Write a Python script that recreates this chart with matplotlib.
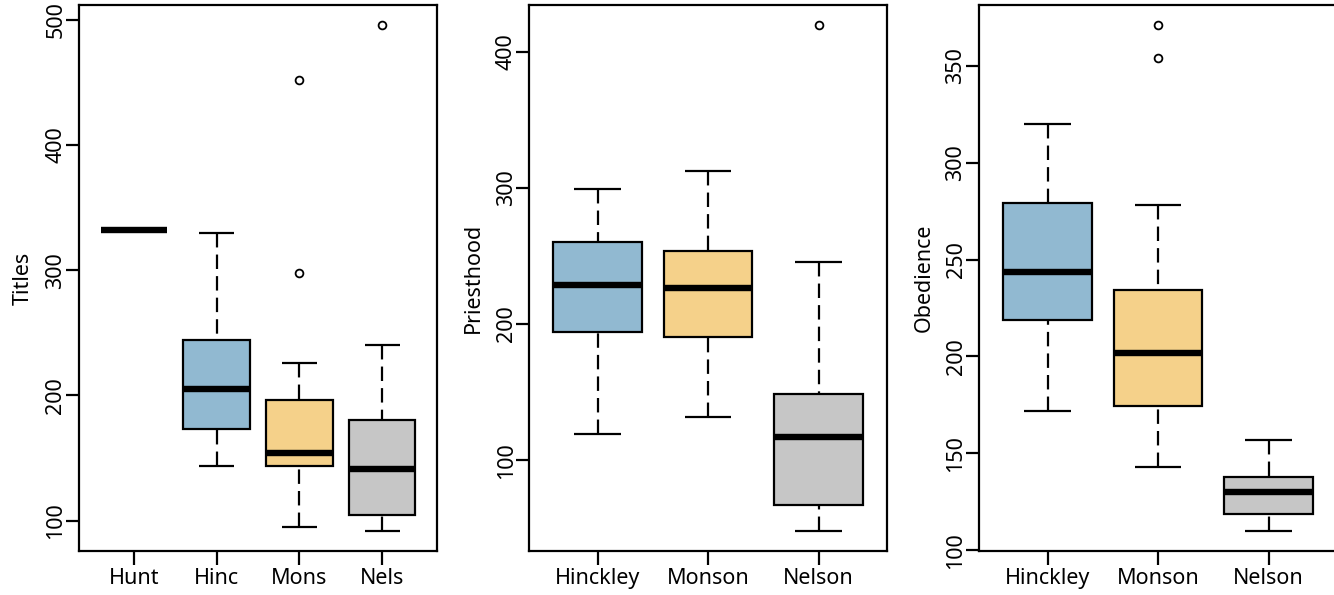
import matplotlib
matplotlib.use("Agg")
import matplotlib.pyplot as plt

# =========================
# DATA
# =========================
# Titles panel
TITLES_NAMES = ["Hunt", "Hinc", "Mons", "Nels"]
TITLES_WHISLO = [332, 144, 95, 92]
TITLES_Q1 = [332, 173, 143.5, 104.5]
TITLES_MED = [332, 205, 154, 141]
TITLES_Q3 = [332, 244, 196.5, 180.7]
TITLES_WHISHI = [332, 330, 225.7, 240]
TITLES_FLIERS = [[], [], [298, 451.6], [495.5]]
TITLES_TICKS = [100, 200, 300, 400, 500]

# Priesthood panel
PRIEST_NAMES = ["Hinckley", "Monson", "Nelson"]
PRIEST_WHISLO = [119, 132, 48.2]
PRIEST_Q1 = [194, 190.7, 67.2]
PRIEST_MED = [229, 226.6, 117.3]
PRIEST_Q3 = [260, 253.6, 148.7]
PRIEST_WHISHI = [299, 312.6, 245.3]
PRIEST_FLIERS = [[], [], [419.5]]
PRIEST_TICKS = [100, 200, 300, 400]

# Obedience panel
OBED_NAMES = ["Hinckley", "Monson", "Nelson"]
OBED_WHISLO = [172, 143, 110]
OBED_Q1 = [218.8, 174.6, 118.8]
OBED_MED = [243.4, 202, 130]
OBED_Q3 = [279, 234.3, 138]
OBED_WHISHI = [320, 278, 157]
OBED_FLIERS = [[], [354, 371], []]
OBED_TICKS = [100, 150, 200, 250, 300, 350]

BLUE = "#91B9D1"
ORANGE = "#F5D18A"
GRAY = "#C6C6C6"

FONT = "Noto Sans"
FS = 15.5
LW = 1.6

plt.rcParams["font.family"] = [FONT, "DejaVu Sans"]


def make_stats(names, whislo, q1, med, q3, whishi, fliers):
    stats = []
    for i, n in enumerate(names):
        stats.append({
            "label": n, "whislo": whislo[i], "q1": q1[i], "med": med[i],
            "q3": q3[i], "whishi": whishi[i], "fliers": fliers[i],
        })
    return stats


def draw_panel(ax, stats, colors, ylabel, ticks):
    n = len(stats)
    pos = list(range(1, n + 1))
    art = ax.bxp(
        stats, positions=pos, widths=0.8, capwidths=0.42,
        patch_artist=True, showfliers=True,
        boxprops=dict(linewidth=LW, edgecolor="black"),
        medianprops=dict(linewidth=4.6, color="black", solid_capstyle="butt"),
        whiskerprops=dict(linewidth=LW, color="black", linestyle=(0, (6.5, 3.2))),
        capprops=dict(linewidth=LW, color="black", solid_capstyle="butt"),
        flierprops=dict(marker="o", markersize=5.6, markerfacecolor="none",
                        markeredgecolor="black", markeredgewidth=1.3),
    )
    for patch, c in zip(art["boxes"], colors):
        patch.set_facecolor(c)
    # R draws whiskers from the staple towards the box
    for w in art["whiskers"]:
        w.set_ydata(w.get_ydata()[::-1])

    vals = []
    for s in stats:
        vals += [s["whislo"], s["whishi"]] + list(s["fliers"])
    lo, hi = min(vals), max(vals)
    pad = 0.04 * (hi - lo)
    ax.set_ylim(lo - pad, hi + pad)
    xpad = 0.04 * n
    ax.set_xlim(0.5 - xpad, n + 0.5 + xpad)

    ax.set_xticks(pos)
    ax.set_xticklabels([s["label"] for s in stats], fontsize=FS)
    ax.set_yticks(ticks)
    ax.set_yticklabels([str(t) for t in ticks], fontsize=FS, rotation=90, va="center")
    ax.tick_params(axis="x", length=10, width=LW, pad=2.5)
    ax.tick_params(axis="y", length=9.5, width=LW, pad=-0.5)
    for sp in ax.spines.values():
        sp.set_linewidth(LW)
    ax.set_ylabel(ylabel, fontsize=FS)
    ax.yaxis.set_label_coords(-0.125, 0.5)


def run():
    fig = plt.figure(figsize=(13.34, 5.95), dpi=100)
    bottom, height = 0.0739, 0.9178
    width = 0.2684
    ax1 = fig.add_axes([0.0592, bottom, width, height])
    ax2 = fig.add_axes([0.3966, bottom, width, height])
    ax3 = fig.add_axes([0.7339, bottom, width, height])

    draw_panel(ax1, make_stats(TITLES_NAMES, TITLES_WHISLO, TITLES_Q1, TITLES_MED,
                               TITLES_Q3, TITLES_WHISHI, TITLES_FLIERS),
               [BLUE, BLUE, ORANGE, GRAY], "Titles", TITLES_TICKS)
    draw_panel(ax2, make_stats(PRIEST_NAMES, PRIEST_WHISLO, PRIEST_Q1, PRIEST_MED,
                               PRIEST_Q3, PRIEST_WHISHI, PRIEST_FLIERS),
               [BLUE, ORANGE, GRAY], "Priesthood", PRIEST_TICKS)
    draw_panel(ax3, make_stats(OBED_NAMES, OBED_WHISLO, OBED_Q1, OBED_MED,
                               OBED_Q3, OBED_WHISHI, OBED_FLIERS),
               [BLUE, ORANGE, GRAY], "Obedience", OBED_TICKS)

    fig.savefig("out.png", dpi=100)


if __name__ == "__main__":
    run()
